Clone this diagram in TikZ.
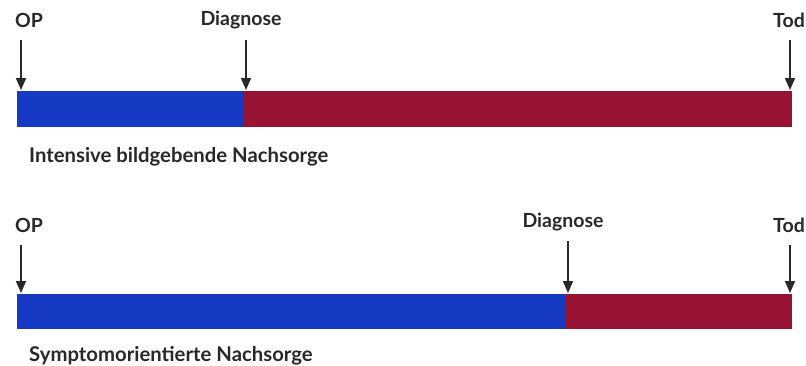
\documentclass[tikz,border=0pt]{standalone}
\usepackage{fontspec}
\setmainfont{Lato}
\usetikzlibrary{arrows.meta}
\definecolor{barblue}{RGB}{22,58,196}
\definecolor{barred}{RGB}{152,20,52}
\definecolor{txt}{RGB}{40,40,40}
\begin{document}
\begin{tikzpicture}[x=1pt,y=-1pt,
  lbl/.style={font=\bfseries\fontsize{19.5}{22}\selectfont,text=txt,inner sep=0pt},
  captext/.style={font=\bfseries\fontsize{20.3}{23}\selectfont,text=txt,inner sep=0pt,anchor=west},
  arr/.style={line width=1.6pt,draw=txt,-{Triangle[length=12pt,width=10pt]}}]
\useasboundingbox (0,0) rectangle (806,365);
% Row 1
\fill[barblue] (17,91) rectangle (244,127);
\fill[barred] (244,91) rectangle (792,127);
\node[lbl,anchor=west] (op1) at (15,20) {OP};
\node[lbl] (dg1) at (241,20) {Diagnose};
\node[lbl,anchor=east] (tod1) at (805,20) {Tod};
\coordinate (op1a) at (21,90);
\coordinate (dg1a) at (246,90);
\coordinate (tod1a) at (790,90);
\draw[arr] (21,40) -- (op1a);
\draw[arr] (246,40) -- (dg1a);
\draw[arr] (790,40) -- (tod1a);
\node[captext] (c1) at (29,157) {Intensive bildgebende Nachsorge};
% Row 2
\fill[barblue] (17,294) rectangle (565,329);
\fill[barred] (565,294) rectangle (792,329);
\node[lbl,anchor=west] (op2) at (15,225) {OP};
\node[lbl] (dg2) at (563,222) {Diagnose};
\node[lbl,anchor=east] (tod2) at (805,225) {Tod};
\coordinate (op2a) at (21,293);
\coordinate (dg2a) at (568,293);
\coordinate (tod2a) at (790,293);
\draw[arr] (21,245) -- (op2a);
\draw[arr] (568,241) -- (dg2a);
\draw[arr] (790,245) -- (tod2a);
\node[captext] (c2) at (29,356) {Symptomorientierte Nachsorge};
\end{tikzpicture}
\end{document}
